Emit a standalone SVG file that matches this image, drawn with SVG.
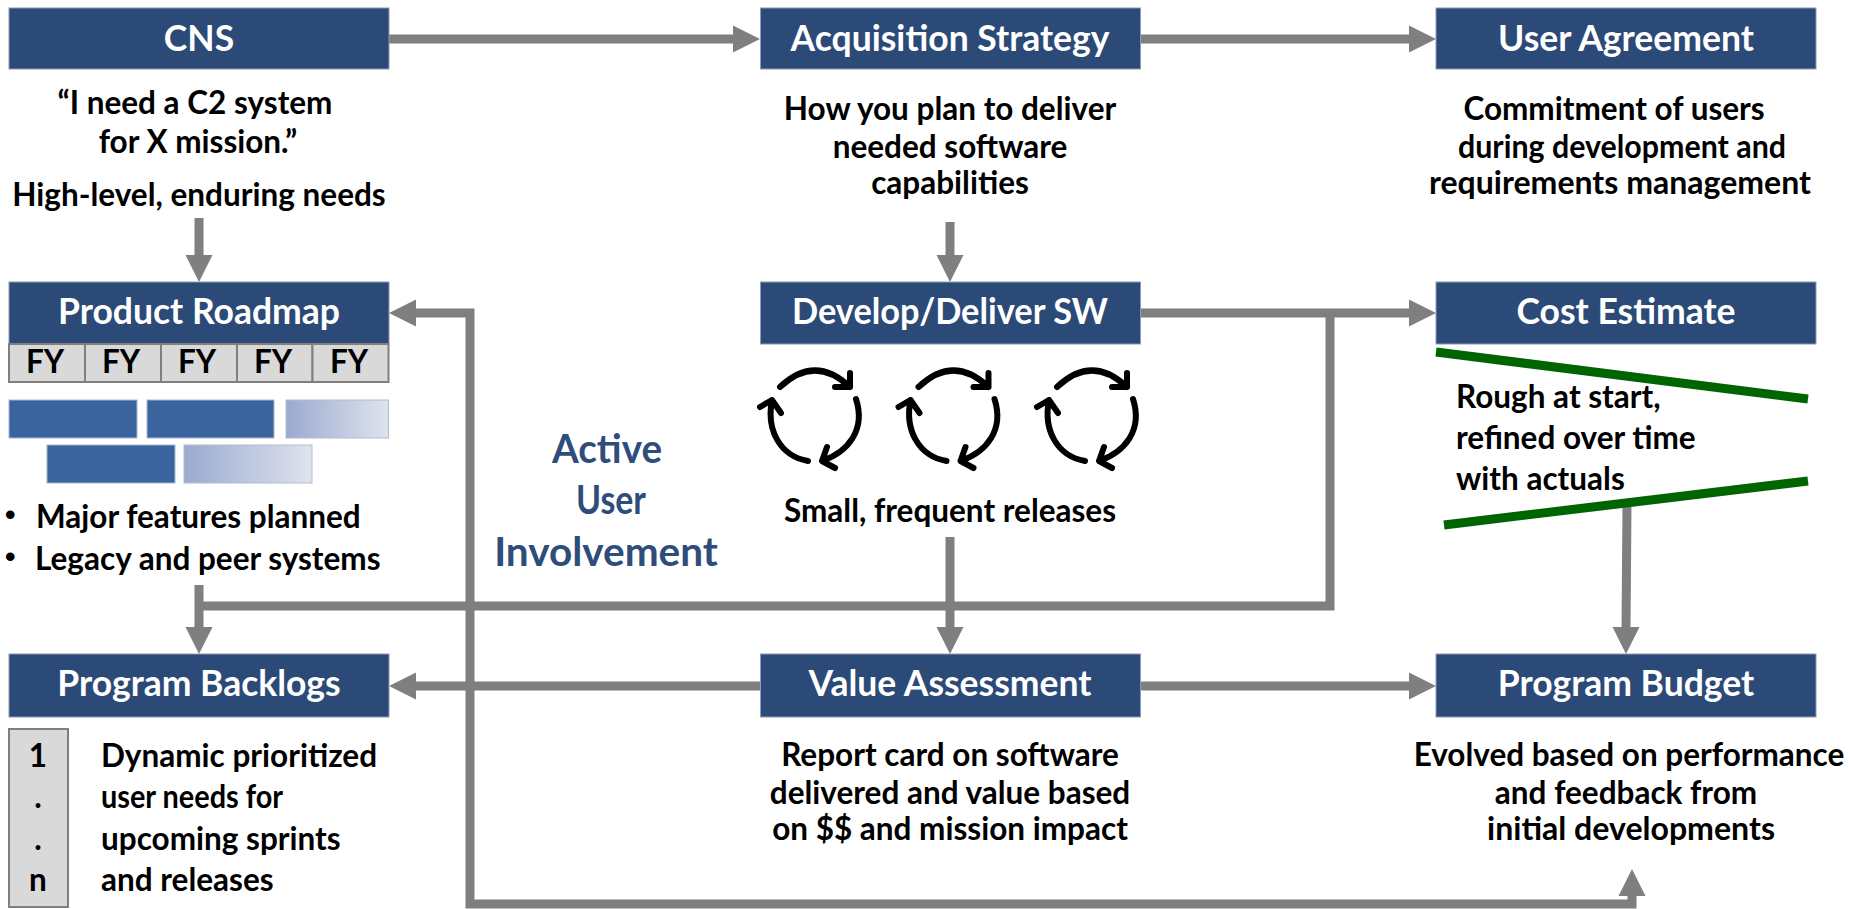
<svg xmlns="http://www.w3.org/2000/svg" width="1849" height="909" viewBox="0 0 1849 909">
<style>
text{font-family:"Lato","Liberation Sans",sans-serif;font-weight:700;fill:#000;font-size:31.500px}
.h{fill:#2c4a77;stroke:#8d9bb3;stroke-width:1}
.ht{fill:#fff;font-size:35.500px;text-anchor:middle}
.c{fill:none;stroke:#7f7f7f;stroke-width:9}
.a{fill:#7f7f7f}
.m{text-anchor:middle}
.b{font-family:"Liberation Sans",sans-serif;font-size:30px}
.cell{fill:#d9d9d9;stroke:#7f7f7f;stroke-width:2}
.bar{fill:#3a649e;stroke:#a9b8d0;stroke-width:1}
.bar2{fill:url(#fade);stroke:#b5bccb;stroke-width:1}
.g{stroke:#006400;stroke-width:9;fill:none}
.cy{fill:none;stroke:#000;stroke-width:6;stroke-linecap:round;stroke-linejoin:round}
.u{fill:#2e4d7b;font-size:40.500px;text-anchor:middle}
</style>
<defs>
<linearGradient id="fade"><stop offset="0" stop-color="#9aaacf"/><stop offset="1" stop-color="#dfe3ee"/></linearGradient>
<g id="cycle">
<path class="cy" d="M780 387Q815 354 850 387M850 373V387H835"/>
<path class="cy" d="M856 399C866 430 848 452 822 461M827 447L822 461L835 468"/>
<path class="cy" d="M808 461C780 456 766 430 772 400M760 407L772 400L781 413"/>
</g>
</defs>
<g id="connectors">
<path class="c" d="M389 39H736"/><path class="a" d="M760 39L733 25.500V52.500Z"/>
<path class="c" d="M1140 39H1412"/><path class="a" d="M1436 39L1409 25.500V52.500Z"/>
<path class="c" d="M199 218V258"/><path class="a" d="M199 282L185.500 255H212.500Z"/>
<path class="c" d="M950 222V258"/><path class="a" d="M950 282L936.500 255H963.500Z"/>
<path class="c" d="M1140 313H1412"/><path class="a" d="M1436 313L1409 299.500V326.500Z"/>
<path class="c" d="M1330 313V606H199"/>
<path class="c" d="M199 585V630"/><path class="a" d="M199 654L185.500 627H212.500Z"/>
<path class="c" d="M950 537V630"/><path class="a" d="M950 654L936.500 627H963.500Z"/>
<path class="c" d="M413 313H470V904H1632V892"/><path class="a" d="M389 313L416 299.500V326.500Z"/><path class="a" d="M1632 869L1618.500 896H1645.500Z"/>
<path class="c" d="M760 686H413"/><path class="a" d="M389 686L416 672.500V699.500Z"/>
<path class="c" d="M1140 686H1412"/><path class="a" d="M1436 686L1409 672.500V699.500Z"/>
<path class="c" d="M1627 505L1626 630"/><path class="a" d="M1626 654L1612.500 627H1639.500Z"/>
</g>
<g id="cns"><rect class="h" x="9" y="8" width="380" height="61"/><text class="ht" x="199" y="51">CNS</text>
<text class="m" x="195" y="114">“I need a C2 system</text><text class="m" x="198" y="153">for X mission.”</text><text class="m" x="199" y="206">High-level, enduring needs</text></g>
<g id="acquisition"><rect class="h" x="760.500" y="8" width="380" height="61"/><text class="ht" x="950" y="51">Acquisition Strategy</text>
<text class="m" x="950" y="120">How you plan to deliver</text><text class="m" x="950" y="158">needed software</text><text class="m" x="950" y="194">capabilities</text></g>
<g id="agreement"><rect class="h" x="1436" y="8" width="380" height="61"/><text class="ht" x="1626" y="51">User Agreement</text>
<text class="m" x="1614" y="120">Commitment of users</text><text class="m" x="1622" y="158" textLength="328" lengthAdjust="spacingAndGlyphs">during development and</text><text class="m" x="1620" y="194" textLength="382" lengthAdjust="spacingAndGlyphs">requirements management</text></g>
<g id="roadmap"><rect class="h" x="9" y="282" width="380" height="62"/><text class="ht" x="199" y="324">Product Roadmap</text>
<rect class="cell" x="9" y="344" width="76" height="38"/><rect class="cell" x="85" y="344" width="76" height="38"/><rect class="cell" x="161" y="344" width="76" height="38"/><rect class="cell" x="237" y="344" width="75.500" height="38"/><rect class="cell" x="312.500" y="344" width="76" height="38"/>
<text class="m" x="45" y="373">FY</text><text class="m" x="121" y="373">FY</text><text class="m" x="197" y="373">FY</text><text class="m" x="273" y="373">FY</text><text class="m" x="349" y="373">FY</text>
<rect class="bar" x="9" y="400" width="128" height="38"/><rect class="bar" x="147" y="400" width="127" height="38"/><rect class="bar2" x="286" y="400" width="102.500" height="38"/>
<rect class="bar" x="47" y="445" width="128" height="38"/><rect class="bar2" x="184" y="445" width="128" height="38"/>
<text class="b" x="5" y="525">•</text><text x="36" y="528">Major features planned</text><text class="b" x="5" y="567">•</text><text x="35" y="570">Legacy and peer systems</text></g>
<g id="develop"><rect class="h" x="760.500" y="282" width="380" height="62"/><text class="ht" x="950" y="324" textLength="316" lengthAdjust="spacingAndGlyphs">Develop/Deliver SW</text>
<use href="#cycle"/><use href="#cycle" x="138.500"/><use href="#cycle" x="277"/>
<text class="m" x="950" y="522">Small, frequent releases</text></g>
<g id="cost"><rect class="h" x="1436" y="282" width="380" height="62"/><text class="ht" x="1626" y="324">Cost Estimate</text>
<path class="g" d="M1436 352L1808 399M1444 525L1808 481"/>
<text x="1456" y="408">Rough at start,</text><text x="1456" y="449">refined over time</text><text x="1456" y="490">with actuals</text></g>
<g id="involvement"><text class="u" x="607" y="463" textLength="110" lengthAdjust="spacingAndGlyphs">Active</text><text class="u" x="611" y="514" textLength="70" lengthAdjust="spacingAndGlyphs">User</text><text class="u" x="606" y="566">Involvement</text></g>
<g id="backlogs"><rect class="h" x="9" y="654" width="380" height="63"/><text class="ht" x="199" y="696">Program Backlogs</text>
<rect class="cell" x="9" y="729" width="59" height="178"/>
<text class="m" x="38" y="767">1</text><text class="m" x="38" y="808">.</text><text class="m" x="38" y="850">.</text><text class="m" x="38" y="891">n</text>
<text x="101" y="767">Dynamic prioritized</text><text x="101" y="808" textLength="182" lengthAdjust="spacingAndGlyphs">user needs for</text><text x="101" y="850">upcoming sprints</text><text x="101" y="891">and releases</text></g>
<g id="value"><rect class="h" x="760.500" y="654" width="380" height="63"/><text class="ht" x="950" y="696">Value Assessment</text>
<text class="m" x="950" y="766">Report card on software</text><text class="m" x="950" y="804">delivered and value based</text><text class="m" x="950" y="840">on $$ and mission impact</text></g>
<g id="budget"><rect class="h" x="1436" y="654" width="380" height="63"/><text class="ht" x="1626" y="696">Program Budget</text>
<text class="m" x="1629" y="766">Evolved based on performance</text><text class="m" x="1626" y="804">and feedback from</text><text class="m" x="1631" y="840" textLength="288" lengthAdjust="spacingAndGlyphs">initial developments</text></g>
</svg>
